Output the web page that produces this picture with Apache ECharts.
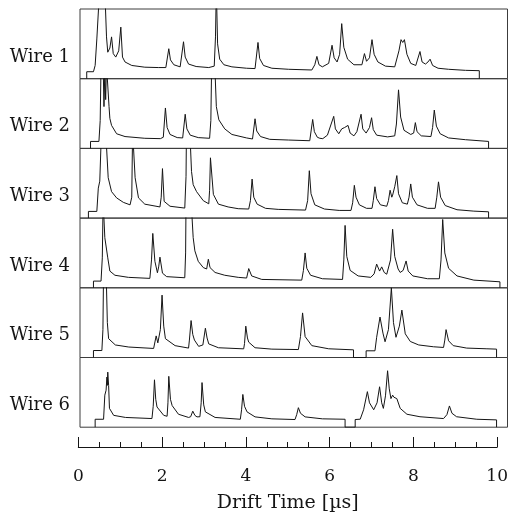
<!DOCTYPE html>
<html>
<head>
<meta charset="utf-8">
<script src="https://cdn.jsdelivr.net/npm/echarts@6/dist/echarts.min.js"></script>
<style>
  html, body { margin: 0; padding: 0; background: #fff; }
  #chart { width: 511px; height: 514px; }
</style>
</head>
<body>
<div id="chart"></div>
<script>
// Drift-time signals recorded on six wires: [drift time (µs), amplitude (% of panel height)]
const wireNames = ['Wire 1', 'Wire 2', 'Wire 3', 'Wire 4', 'Wire 5', 'Wire 6'];

const wire1 = [[0.20,0],[0.20,10],[0.36,10],[0.40,19],[0.44,57],[0.48,100],[0.50,125],[0.56,125],[0.58,115],[0.61,125],[0.64,110],[0.67,60],[0.70,38],[0.75,44],[0.79,60],[0.83,36],[0.89,31],[0.96,40],[1.01,74],[1.05,31],[1.11,24],[1.27,19],[1.58,16.5],[1.90,16],[2.08,16],[2.15,43],[2.19,27],[2.27,20],[2.42,17],[2.45,19],[2.50,53],[2.54,31],[2.62,21],[2.80,17.5],[3.10,16],[3.23,18],[3.26,60],[3.28,130],[3.31,50],[3.36,28],[3.46,20],[3.65,17],[4.00,15],[4.20,14.5],[4.27,52],[4.31,29],[4.40,19],[4.60,15],[5.00,13.5],[5.55,12.5],[5.62,20],[5.67,32],[5.72,20],[5.80,17],[5.95,22],[6.03,48],[6.08,30],[6.15,24],[6.21,35],[6.26,79],[6.31,45],[6.40,28],[6.55,20],[6.74,20],[6.80,36],[6.85,25],[6.92,30],[6.98,56],[7.03,35],[7.12,24],[7.30,18],[7.52,17],[7.62,40],[7.67,56],[7.71,52],[7.75,56],[7.81,35],[7.90,22],[8.02,19],[8.12,39],[8.17,24],[8.25,21],[8.31,24],[8.36,28],[8.42,19],[8.55,15],[8.80,13.5],[9.20,12],[9.53,11.5],[9.53,0]];

const wire2 = [[0.29,0],[0.29,10],[0.49,10],[0.52,40],[0.54,120],[0.59,120],[0.61,60],[0.63,110],[0.65,70],[0.67,120],[0.70,120],[0.73,60],[0.75,43],[0.79,33],[0.91,21],[1.11,17],[1.58,14.5],[1.95,14],[2.02,16],[2.07,58],[2.11,30],[2.18,20],[2.35,15.5],[2.48,15],[2.54,49],[2.58,28],[2.66,19],[2.85,15.5],[3.12,14.5],[3.15,40],[3.17,125],[3.24,125],[3.28,60],[3.34,41],[3.48,28],[3.65,20],[4.00,15],[4.14,13.5],[4.20,42.5],[4.24,25],[4.33,17],[4.55,13],[5.00,12],[5.50,11],[5.57,41.5],[5.61,24],[5.68,16],[5.74,14.5],[5.77,16],[5.81,14],[5.92,19],[6.07,46],[6.11,28],[6.19,21],[6.26,28],[6.33,30],[6.37,28],[6.41,33],[6.46,22],[6.55,18],[6.62,24],[6.72,49],[6.76,28],[6.84,22],[6.92,30],[6.97,44],[7.01,27],[7.09,19],[7.35,16.5],[7.52,18],[7.56,35],[7.61,84],[7.66,45],[7.74,26],[7.90,20],[7.97,22],[8.01,37],[8.05,24],[8.15,18],[8.38,17],[8.42,30],[8.46,55],[8.51,32],[8.60,21],[8.80,15],[9.20,12.5],[9.75,10],[9.75,0]];

const wire3 = [[0.24,0],[0.24,9.6],[0.44,9.6],[0.475,43],[0.51,53],[0.55,125],[0.65,125],[0.71,58],[0.79,38],[0.91,29],[1.07,22.6],[1.23,19],[1.27,30],[1.29,125],[1.31,125],[1.35,58],[1.43,29],[1.58,20],[1.94,16],[1.97,30],[2.00,71],[2.04,24],[2.18,17],[2.53,14.4],[2.56,60],[2.57,125],[2.65,125],[2.69,67],[2.73,48],[2.81,38],[2.97,25],[3.10,20.5],[3.12,40],[3.14,86.5],[3.21,34],[3.33,20],[3.56,16],[3.80,13.5],[4.05,13],[4.09,25],[4.13,56],[4.17,30],[4.25,20],[4.45,14],[4.75,12.5],[5.40,11.5],[5.45,25],[5.49,68],[5.53,35],[5.62,19],[5.85,13],[6.20,11],[6.48,11],[6.52,22],[6.56,47],[6.60,30],[6.68,19],[6.85,14],[6.98,14],[7.01,25],[7.05,45],[7.09,28],[7.18,19],[7.33,17],[7.37,25],[7.41,40],[7.45,30],[7.47,33],[7.52,45],[7.57,61],[7.61,35],[7.70,22],[7.82,20],[7.86,30],[7.90,49],[7.94,30],[8.05,19],[8.30,14],[8.48,14],[8.52,30],[8.56,52],[8.61,30],[8.72,18],[9.00,12],[9.40,10],[9.75,9],[9.75,0]];

const wire4 = [[0.36,0],[0.36,9.6],[0.54,9.6],[0.57,43],[0.59,125],[0.62,125],[0.63,72],[0.66,70],[0.70,43],[0.75,24],[0.87,18],[1.19,15],[1.70,13.5],[1.74,40],[1.77,78],[1.82,38],[1.88,21.6],[1.91,30],[1.94,44],[2.00,21],[2.10,16],[2.53,14.4],[2.55,50],[2.56,125],[2.68,125],[2.73,72],[2.77,53],[2.85,38],[2.97,29],[3.05,27],[3.09,41],[3.13,29],[3.25,22],[3.48,18],[3.80,15],[4.00,14],[4.05,27.6],[4.12,17],[4.36,12],[5.31,11],[5.35,25],[5.39,50],[5.43,28],[5.52,18],[5.80,13],[6.28,12],[6.31,40],[6.34,89.5],[6.38,45],[6.46,25],[6.65,17],[6.95,15],[7.03,20],[7.09,34],[7.16,24],[7.21,30],[7.27,22],[7.33,19.5],[7.42,40],[7.47,84],[7.52,45],[7.60,27],[7.65,22],[7.72,25],[7.79,38.5],[7.84,24],[7.95,17],[8.30,13],[8.58,13],[8.62,40],[8.66,98],[8.71,50],[8.80,28],[9.00,17],[9.40,11],[10.02,8.6],[10.02,0]];

const wire5 = [[0.36,0],[0.36,10],[0.56,10],[0.585,40],[0.60,125],[0.66,125],[0.69,50],[0.72,27],[0.88,18],[1.20,15],[1.79,13],[1.85,31],[1.89,21],[1.95,40],[1.99,89.5],[2.03,45],[2.07,27],[2.30,17],[2.62,13.5],[2.64,25],[2.68,53],[2.72,33],[2.76,25],[2.86,16],[2.96,18],[3.02,42],[3.06,28],[3.10,19.5],[3.33,14],[3.93,12.4],[3.95,20],[3.98,45],[4.02,28],[4.05,22],[4.20,14],[4.60,12],[5.23,11.4],[5.28,30],[5.33,64],[5.39,30],[5.55,17],[5.95,12.5],[6.54,11],[6.54,0],[6.84,0],[6.84,9.6],[7.05,9.6],[7.09,29],[7.17,58],[7.24,35],[7.29,22.6],[7.37,40],[7.44,100],[7.49,50],[7.55,29],[7.63,45],[7.69,68],[7.77,34],[7.89,23],[8.09,18],[8.44,15.4],[8.68,14.4],[8.71,25],[8.74,40],[8.80,24],[8.91,17],[9.23,13.5],[9.71,12.5],[9.94,12],[9.94,0]];

const wire6 = [[0.40,0],[0.40,11.4],[0.60,11.4],[0.63,46],[0.66,53],[0.68,72],[0.69,60],[0.70,79],[0.72,60],[0.74,27],[0.84,17],[1.12,14],[1.75,12.4],[1.78,30],[1.81,68],[1.84,40],[1.87,29],[2.03,17],[2.11,15.7],[2.13,35],[2.15,73],[2.19,40],[2.23,31],[2.38,18.6],[2.62,14],[2.67,15],[2.72,23],[2.77,17],[2.82,14.8],[2.89,15],[2.92,35],[2.94,64],[2.98,32],[3.02,22],[3.25,14],[3.85,11.4],[3.88,25],[3.91,47],[3.95,30],[4.01,22],[4.20,14.8],[4.60,12],[5.15,11],[5.19,18],[5.23,28],[5.28,20],[5.39,14.8],[5.80,12],[6.34,11.4],[6.34,0],[6.58,0],[6.58,11],[6.70,11.5],[6.78,25],[6.87,51],[6.92,35],[7.02,25],[7.10,35],[7.16,58],[7.21,35],[7.25,27],[7.30,45],[7.35,81],[7.39,55],[7.43,41],[7.47,46],[7.50,43],[7.53,44],[7.57,41],[7.65,27],[7.81,18.6],[8.12,15],[8.68,12.4],[8.76,18],[8.82,30.5],[8.88,20],[8.99,15],[9.47,11.4],[9.94,10.5],[9.94,0]];

const traces = [wire1, wire2, wire3, wire4, wire5, wire6];

// Shared drift-time scale for the bottom axis
const timeMin = 0, timeMax = 10, timeStep = 2;
const timeTitle = 'Drift Time [µs]';

const FONT = '"DejaVu Serif", "Liberation Serif", serif';
const INK = '#151515';

const panelTop = 9, panelH = 69.7;
const panelLeft = 80, panelRight = 3.5;

const grids = [], xAxes = [], yAxes = [], series = [], labels = [];

traces.forEach((data, i) => {
  const top = panelTop + i * panelH;
  grids.push({
    left: panelLeft, right: panelRight, top: top, height: panelH,
    show: true, borderColor: '#3c3c3c', borderWidth: 1, backgroundColor: 'transparent'
  });
  xAxes.push({ gridIndex: i, type: 'value', min: 0.04, max: 10.2, show: false });
  yAxes.push({ gridIndex: i, type: 'value', min: 0, max: 100, show: false });
  series.push({
    type: 'line', xAxisIndex: i, yAxisIndex: i, data: data,
    symbol: 'none', showSymbol: false, clip: true, silent: true,
    lineStyle: { color: INK, width: 1 }
  });
  labels.push({
    type: 'text', x: 70, y: top + 48, silent: true,
    style: { text: wireNames[i], align: 'right', verticalAlign: 'middle',
             font: '18px ' + FONT, fill: INK }
  });
});

// Stand-alone time axis under the panels
grids.push({ left: 78.3, width: 420.7, top: 440, height: 12, show: false });
xAxes.push({
  gridIndex: 6, type: 'value', min: timeMin, max: timeMax, interval: timeStep,
  position: 'bottom',
  axisLine: { show: true, lineStyle: { color: INK, width: 1 } },
  axisTick: { show: true, inside: true, length: 10, lineStyle: { color: INK, width: 1 } },
  minorTick: { show: true, splitNumber: 4, length: 5, lineStyle: { color: INK, width: 1 } },
  splitLine: { show: false }, minorSplitLine: { show: false },
  axisLabel: { margin: 21, fontFamily: FONT, fontSize: 17, color: INK },
  name: timeTitle, nameLocation: 'middle', nameGap: 47,
  nameTextStyle: { fontFamily: FONT, fontSize: 19, color: INK }
});
yAxes.push({ gridIndex: 6, type: 'value', show: false });

const chart = echarts.init(document.getElementById('chart'), null, { renderer: 'canvas' });
chart.setOption({
  animation: false,
  backgroundColor: '#fff',
  grid: grids,
  xAxis: xAxes,
  yAxis: yAxes,
  series: series,
  graphic: labels
});
</script>
</body>
</html>
